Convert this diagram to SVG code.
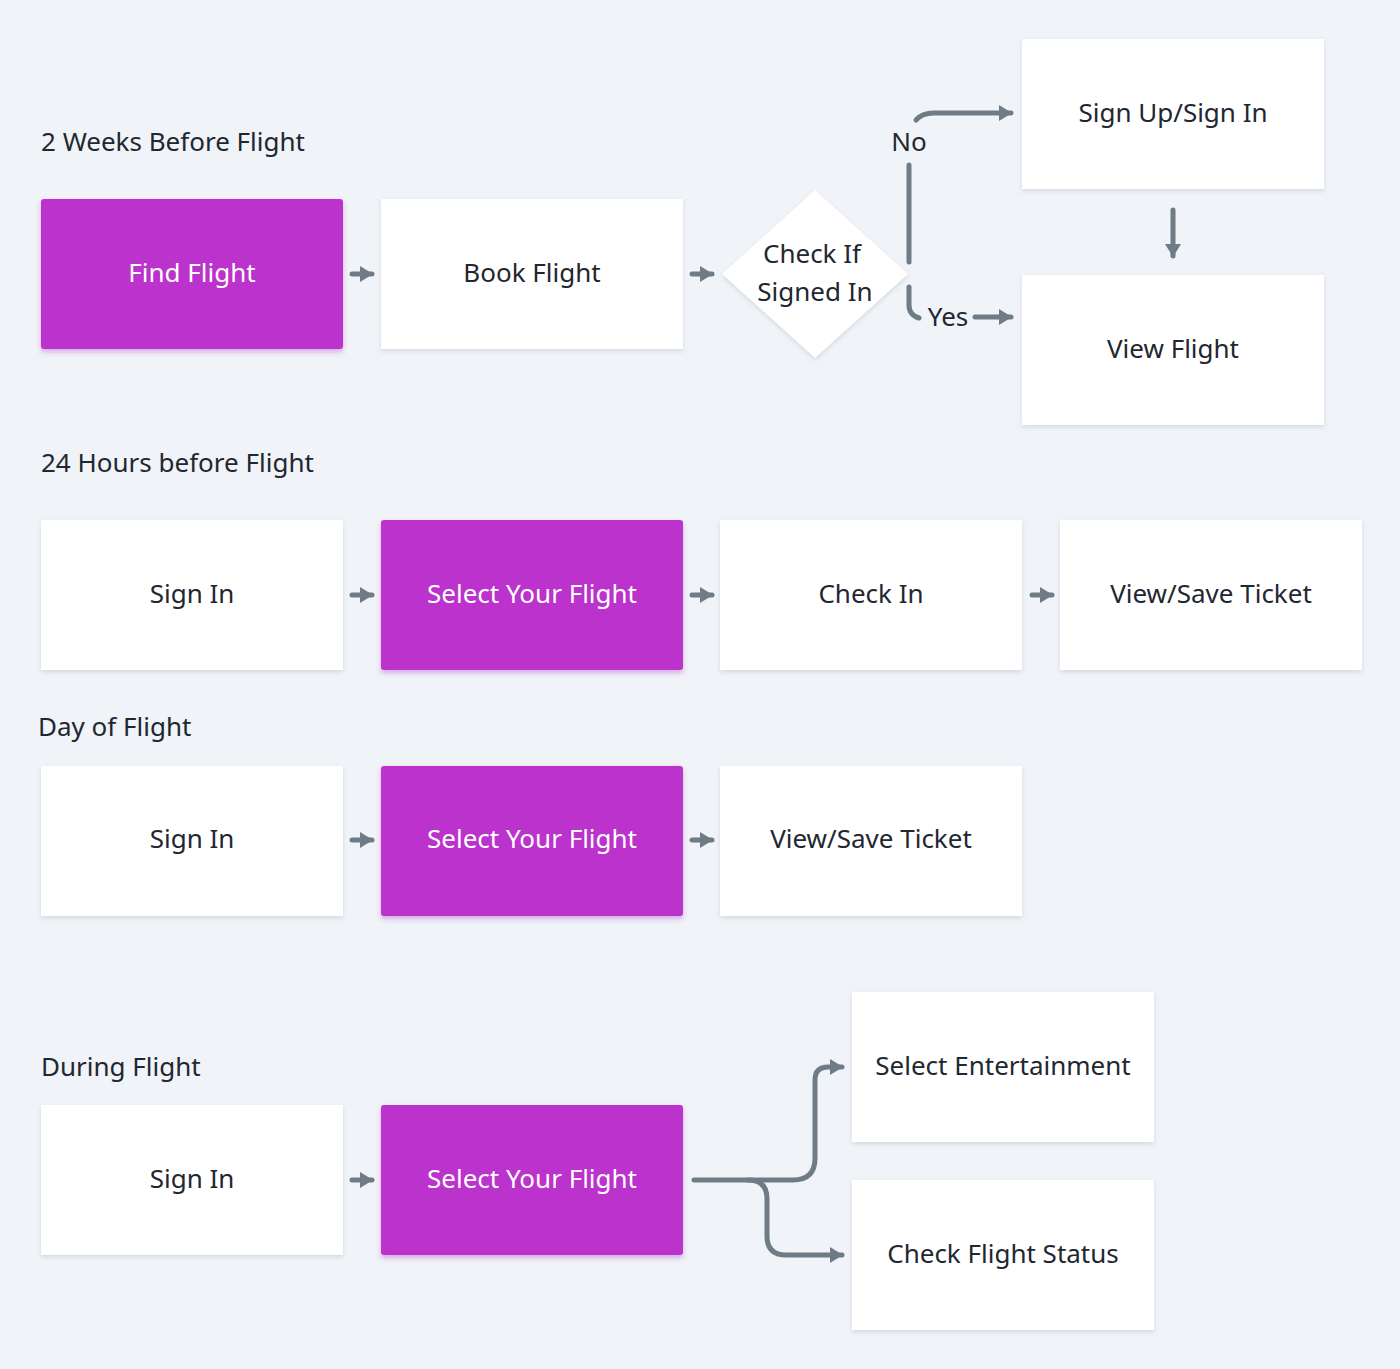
<svg xmlns="http://www.w3.org/2000/svg" width="1400" height="1369" viewBox="0 0 1400 1369">
<defs>
<filter id="sh" x="-10%" y="-10%" width="120%" height="130%">
<feDropShadow dx="0" dy="2" stdDeviation="2" flood-color="#9aa4b8" flood-opacity="0.35"/>
</filter>
<filter id="shp" x="-10%" y="-10%" width="120%" height="130%">
<feDropShadow dx="0" dy="3" stdDeviation="2.5" flood-color="#b040c8" flood-opacity="0.4"/>
</filter>
<marker id="ah" viewBox="0 0 13 16" refX="12" refY="8" markerWidth="13" markerHeight="16" orient="auto" markerUnits="userSpaceOnUse">
<path d="M0,0 L13,8 L0,16 Z" fill="#6f7c86"/>
</marker>
<style>
.box{fill:#ffffff;filter:url(#sh)}
.pbox{fill:#bb33cc;filter:url(#shp)}
.t{font-family:"Noto Sans","DejaVu Sans",sans-serif;font-size:26px;fill:#1f2731;text-anchor:middle;dominant-baseline:central}
.tw{fill:#ffffff}
.h{font-family:"Noto Sans","DejaVu Sans",sans-serif;font-size:26px;fill:#1f2731}
.c{fill:none;stroke:#6f7c86;stroke-width:5;stroke-linecap:round;stroke-linejoin:round}
.ca{marker-end:url(#ah)}
</style>
</defs>
<rect width="1400" height="1369" fill="#f0f3f7"/>

<g id="labels">
<text class="h" x="41" y="151">2 Weeks Before Flight</text>
<text class="h" x="41" y="472">24 Hours before Flight</text>
<text class="h" x="38" y="736">Day of Flight</text>
<text class="h" x="41" y="1076">During Flight</text>
</g>

<g id="n-find"><rect class="pbox" x="41" y="199" width="302" height="150" rx="3"/><text class="t tw" x="192" y="272">Find Flight</text></g>
<g id="n-book"><rect class="box" x="381" y="199" width="302" height="150"/><text class="t" x="532" y="272">Book Flight</text></g>
<g id="n-check"><polygon class="box" points="815,190 908,274 815,358 722,274"/><text class="t" x="812" y="253">Check If</text><text class="t" x="815" y="291">Signed In</text></g>
<g id="n-signup"><rect class="box" x="1022" y="39" width="302" height="150"/><text class="t" x="1173" y="112">Sign Up/Sign In</text></g>
<g id="n-view"><rect class="box" x="1022" y="275" width="302" height="150"/><text class="t" x="1173" y="348">View Flight</text></g>

<g id="n-r2-signin"><rect class="box" x="41" y="520" width="302" height="150"/><text class="t" x="192" y="593">Sign In</text></g>
<g id="n-r2-select"><rect class="pbox" x="381" y="520" width="302" height="150" rx="3"/><text class="t tw" x="532" y="593">Select Your Flight</text></g>
<g id="n-r2-checkin"><rect class="box" x="720" y="520" width="302" height="150"/><text class="t" x="871" y="593">Check In</text></g>
<g id="n-r2-ticket"><rect class="box" x="1060" y="520" width="302" height="150"/><text class="t" x="1211" y="593">View/Save Ticket</text></g>

<g id="n-r3-signin"><rect class="box" x="41" y="766" width="302" height="150"/><text class="t" x="192" y="838">Sign In</text></g>
<g id="n-r3-select"><rect class="pbox" x="381" y="766" width="302" height="150" rx="3"/><text class="t tw" x="532" y="838">Select Your Flight</text></g>
<g id="n-r3-ticket"><rect class="box" x="720" y="766" width="302" height="150"/><text class="t" x="871" y="838">View/Save Ticket</text></g>

<g id="n-r4-signin"><rect class="box" x="41" y="1105" width="302" height="150"/><text class="t" x="192" y="1178">Sign In</text></g>
<g id="n-r4-select"><rect class="pbox" x="381" y="1105" width="302" height="150" rx="3"/><text class="t tw" x="532" y="1178">Select Your Flight</text></g>
<g id="n-r4-ent"><rect class="box" x="852" y="992" width="302" height="150"/><text class="t" x="1003" y="1065">Select Entertainment</text></g>
<g id="n-r4-status"><rect class="box" x="852" y="1180" width="302" height="150"/><text class="t" x="1003" y="1253">Check Flight Status</text></g>

<g id="connectors">
<path class="c ca" d="M352,274 H372"/>
<path class="c ca" d="M692,274 H712"/>
<path class="c" d="M909,165 V262"/>
<text class="h" x="909" y="151" text-anchor="middle">No</text>
<path class="c ca" d="M916,120 Q922,113 934,113 H1011"/>
<path class="c" d="M909,287 V305 Q909,315 919,318"/>
<text class="h" x="948" y="326" text-anchor="middle">Yes</text>
<path class="c ca" d="M975,317 H1011"/>
<path class="c ca" d="M1173,210 V256"/>

<path class="c ca" d="M352,595 H372"/>
<path class="c ca" d="M692,595 H712"/>
<path class="c ca" d="M1032,595 H1052"/>

<path class="c ca" d="M352,840 H372"/>
<path class="c ca" d="M692,840 H712"/>

<path class="c ca" d="M352,1180 H372"/>
<path class="c ca" d="M694,1180 H793 Q815,1180 815,1158 V1080 Q815,1067 828,1067 H842"/>
<path class="c ca" d="M748,1180 Q767,1180 767,1199 V1236 Q767,1255 786,1255 H842"/>
</g>
</svg>
